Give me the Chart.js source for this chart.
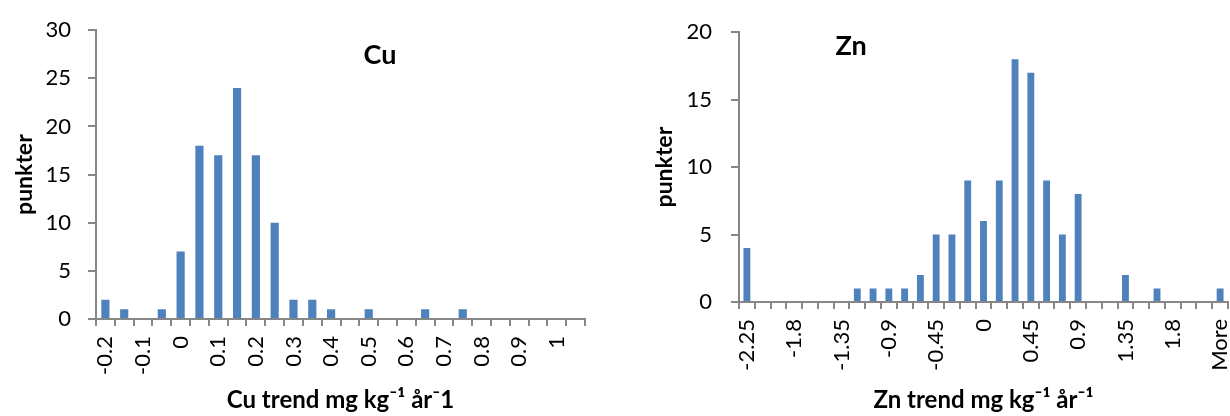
<!DOCTYPE html>
<html>
<head>
<meta charset="utf-8">
<script src="https://cdn.jsdelivr.net/npm/chart.js@4"></script>
<style>
  html, body { margin: 0; padding: 0; background: #ffffff; }
  #wrap { position: relative; width: 1230px; height: 416px; }
  #wrap canvas { position: absolute; top: 0; }
  #cuChart { left: 0; }
  #znChart { left: 615px; }
</style>
</head>
<body>
<div id="wrap">
  <canvas id="cuChart" width="615" height="416"></canvas>
  <canvas id="znChart" width="615" height="416"></canvas>
</div>
<script>
// Cu: trend bins (mg kg-1 per year) and number of points in each bin
const cuBins = ['-0.2', '-0.15', '-0.1', '-0.05', '0', '0.05', '0.1', '0.15', '0.2', '0.25',
                '0.3', '0.35', '0.4', '0.45', '0.5', '0.55', '0.6', '0.65', '0.7', '0.75',
                '0.8', '0.85', '0.9', '0.95', '1', 'More'];
const cuCounts = [2, 1, 0, 1, 7, 18, 17, 24, 17, 10,
                  2, 2, 1, 0, 1, 0, 0, 1, 0, 1,
                  0, 0, 0, 0, 0, 0];

// Zn: trend bins (mg kg-1 per year) and number of points in each bin
const znBins = ['-2.25', '-2.1', '-1.95', '-1.8', '-1.65', '-1.5', '-1.35', '-1.2', '-1.05', '-0.9',
                '-0.75', '-0.6', '-0.45', '-0.3', '-0.15', '0', '0.15', '0.3', '0.45', '0.6',
                '0.75', '0.9', '1.05', '1.2', '1.35', '1.5', '1.65', '1.8', '1.95', '2.1', 'More'];
const znCounts = [4, 0, 0, 0, 0, 0, 0, 1, 1, 1,
                  1, 2, 5, 5, 9, 6, 9, 18, 17, 9,
                  5, 8, 0, 0, 2, 0, 1, 0, 0, 0, 1];

// y-axis ranges
const cuYMax = 30;
const znYMax = 20;
const yStep = 5;

const FONT = 'Lato, "Noto Sans", "DejaVu Sans", sans-serif';
const AXIS = '#868686';
const BAR = '#4F81BD';

// Draws the element name inside the plot area
const innerTitle = {
  id: 'innerTitle',
  afterDraw(chart, args, opts) {
    const { ctx, chartArea } = chart;
    ctx.save();
    ctx.font = 'bold 27px ' + FONT;
    ctx.fillStyle = '#000';
    ctx.textAlign = 'center';
    ctx.textBaseline = 'middle';
    ctx.fillText(opts.text, chartArea.left + opts.dx, chartArea.top + opts.dy);
    ctx.restore();
  }
};

function histogram(id, bins, counts, o) {
  return new Chart(document.getElementById(id), {
    type: 'bar',
    data: {
      labels: bins,
      datasets: [{
        data: counts,
        backgroundColor: BAR,
        borderWidth: 0,
        barPercentage: 0.435,
        categoryPercentage: 1
      }]
    },
    options: {
      responsive: false,
      animation: false,
      devicePixelRatio: 1,
      layout: { padding: o.padding },
      plugins: {
        legend: { display: false },
        tooltip: { enabled: false },
        innerTitle: { text: o.name, dx: o.nameDx, dy: o.nameDy }
      },
      scales: {
        x: {
          grid: {
            display: true,
            offset: true,
            drawOnChartArea: false,
            drawTicks: true,
            tickLength: 7,
            color: AXIS,
            lineWidth: 2
          },
          border: { display: true, color: AXIS, width: 2 },
          ticks: {
            autoSkip: false,
            minRotation: 90,
            maxRotation: 90,
            padding: 10,
            color: '#000',
            font: { family: FONT, size: 22 },
            callback: (v, i) => (i % o.labelEvery === 0 ? bins[i] : '')
          },
          title: {
            display: true,
            text: o.xTitle,
            color: '#000',
            font: { family: FONT, size: 24, weight: 'bold' },
            padding: { top: 0, bottom: 1 }
          },
          afterFit: s => {
            s.height = o.xAxisHeight;
            s.paddingLeft = 0;
            s.paddingRight = 0;
          }
        },
        y: {
          min: 0,
          max: o.yMax,
          grid: {
            display: true,
            drawOnChartArea: false,
            drawTicks: true,
            tickLength: 8,
            color: AXIS,
            lineWidth: 2
          },
          border: { display: true, color: AXIS, width: 2 },
          ticks: {
            stepSize: yStep,
            padding: o.yTickPad,
            color: '#000',
            font: { family: FONT, size: 22 }
          },
          title: {
            display: true,
            text: 'punkter',
            color: '#000',
            font: { family: FONT, size: 23, weight: 'bold' },
            padding: { top: 11, bottom: 0 }
          },
          afterFit: s => { s.width = o.yAxisWidth; }
        }
      }
    },
    plugins: [innerTitle]
  });
}

histogram('cuChart', cuBins, cuCounts, {
  name: 'Cu', nameDx: 284, nameDy: 25,
  xTitle: 'Cu trend mg kg⁻¹ år⁻1',
  yMax: cuYMax, labelEvery: 2,
  padding: { left: 0, right: 30, top: 27, bottom: 0 },
  yAxisWidth: 96, xAxisHeight: 97, yTickPad: 17
});

histogram('znChart', znBins, znCounts, {
  name: 'Zn', nameDx: 112, nameDy: 14,
  xTitle: 'Zn trend mg kg⁻¹ år⁻¹',
  yMax: znYMax, labelEvery: 3,
  padding: { left: 25, right: 2, top: 27, bottom: 0 },
  yAxisWidth: 99, xAxisHeight: 114, yTickPad: 19
});
</script>
</body>
</html>
